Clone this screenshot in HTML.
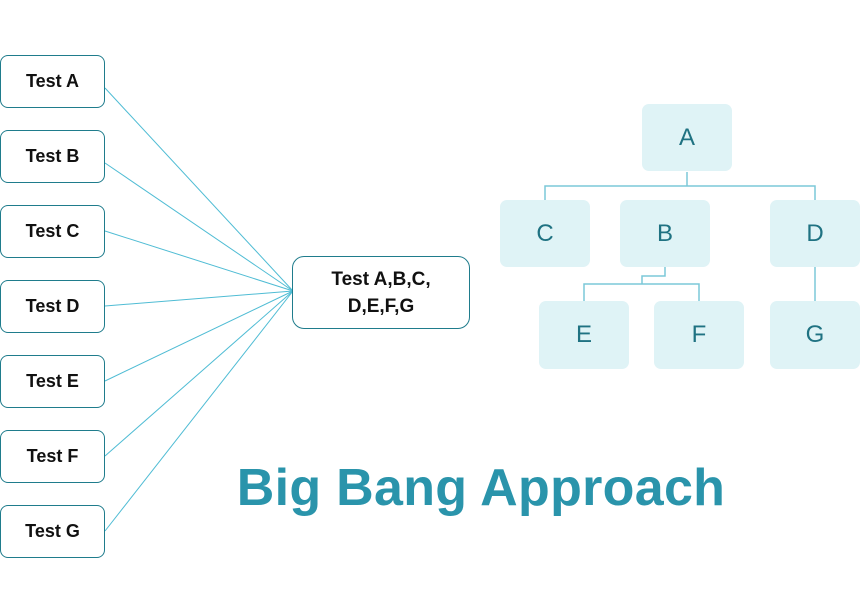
<!DOCTYPE html>
<html><head><style>
body{margin:0;width:861px;height:601px;background:#fff;position:relative;overflow:hidden;font-family:"Liberation Sans",sans-serif}
.t{position:absolute;left:0;width:105px;height:53px;border:1px solid #1f7c8c;border-radius:8px;box-sizing:border-box;display:flex;align-items:center;justify-content:center;font-size:18px;font-weight:bold;color:#111;background:#fff}
.n{position:absolute;width:90px;height:67px;background:#dff3f6;border-radius:7px;display:flex;align-items:center;justify-content:center;font-size:24px;color:#1f7282}
</style></head><body>
<svg width="861" height="601" style="position:absolute;left:0;top:0">
<g stroke="#4fbcd4" stroke-width="1" fill="none">
<line x1="105" y1="88" x2="293" y2="291"/>
<line x1="105" y1="163" x2="293" y2="291"/>
<line x1="105" y1="231" x2="293" y2="291"/>
<line x1="105" y1="306" x2="293" y2="291"/>
<line x1="105" y1="381" x2="293" y2="291"/>
<line x1="105" y1="456" x2="293" y2="291"/>
<line x1="105" y1="531" x2="293" y2="291"/>
</g>
<g stroke="#7cc8d8" stroke-width="1.5" fill="none">
<polyline points="687,172 687,186"/>
<polyline points="545,200 545,186 815,186 815,200"/>
<polyline points="665,267 665,276 642,276 642,284"/>
<polyline points="584,301 584,284 699,284 699,301"/>
<polyline points="815,267 815,301"/>
</g>
</svg>
<div class="t" style="top:55px">Test A</div>
<div class="t" style="top:130px">Test B</div>
<div class="t" style="top:205px">Test C</div>
<div class="t" style="top:280px">Test D</div>
<div class="t" style="top:355px">Test E</div>
<div class="t" style="top:430px">Test F</div>
<div class="t" style="top:505px">Test G</div>
<div class="t" style="left:292px;top:256px;width:178px;height:73px;border-radius:12px;line-height:27px;text-align:center;font-size:19px">Test A,B,C,<br>D,E,F,G</div>
<div class="n" style="left:642px;top:104px">A</div>
<div class="n" style="left:500px;top:200px">C</div>
<div class="n" style="left:620px;top:200px">B</div>
<div class="n" style="left:770px;top:200px">D</div>
<div class="n" style="left:539px;top:301px;height:68px">E</div>
<div class="n" style="left:654px;top:301px;height:68px">F</div>
<div class="n" style="left:770px;top:301px;height:68px">G</div>
<div style="position:absolute;left:200px;width:562px;top:458px;text-align:center;font-size:52px;font-weight:bold;color:#2a94ab;letter-spacing:0.3px">Big Bang Approach</div>
</body></html>
